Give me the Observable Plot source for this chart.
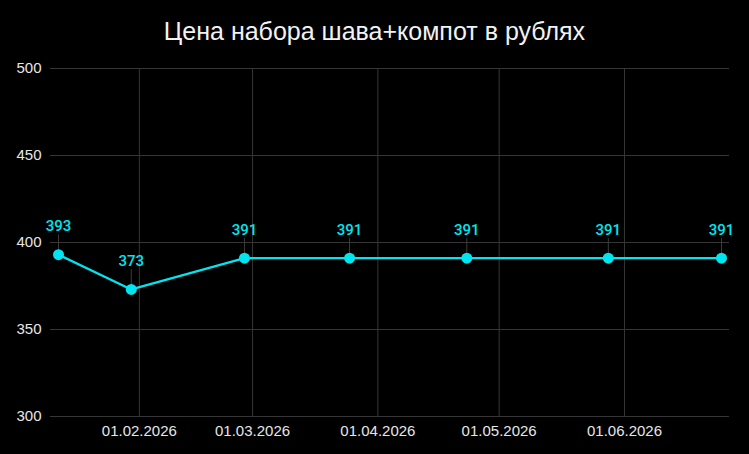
<!DOCTYPE html>
<html>
<head>
<meta charset="utf-8">
<script src="https://cdn.jsdelivr.net/npm/d3@7"></script>
<script src="https://cdn.jsdelivr.net/npm/@observablehq/plot@0.6"></script>
<style>
  html, body { margin: 0; padding: 0; background: #000; }
  #title {
    width: 749px; height: 56px; box-sizing: border-box;
    padding-top: 19px; font: 25px/25px "Liberation Sans", Arial, sans-serif;
    color: #f2f2f2; text-align: center;
  }
</style>
</head>
<body>
<div id="title">Цена набора шава+компот в рублях</div>
<div id="chart"></div>
<script>
const dates = ["2026-01-12", "2026-01-30", "2026-02-27", "2026-03-25", "2026-04-23", "2026-05-28", "2026-06-25"];
const prices = [393, 373, 391, 391, 391, 391, 391];
const xTicks = ["2026-02-01", "2026-03-01", "2026-04-01", "2026-05-01", "2026-06-01"];
const yTicks = [300, 350, 400, 450, 500];

const data = dates.map((d, i) => ({date: new Date(d), value: prices[i]}));
const xTickDates = xTicks.map(d => new Date(d));
const cyan = "#00e5f0";
const grid = "#363636";
const fmt = d3.utcFormat("%d.%m.%Y");

const chart = Plot.plot({
  width: 749,
  height: 398,
  marginTop: 12,
  marginBottom: 38,
  marginLeft: 50,
  marginRight: 20,
  style: {background: "#000", color: "#e6e6e6", fontFamily: "'Liberation Sans', Arial, sans-serif", fontSize: "15px"},
  x: {type: "utc", inset: 8},
  y: {domain: [300, 500]},
  marks: [
    Plot.gridX(xTickDates, {stroke: grid, strokeOpacity: 1}),
    Plot.gridY(yTicks, {stroke: grid, strokeOpacity: 1}),
    Plot.axisX(xTickDates, {tickSize: 0, tickPadding: 9, tickFormat: fmt, label: null, fill: "#e6e6e6"}),
    Plot.axisY(yTicks, {tickSize: 0, tickPadding: 9, label: null, fill: "#e6e6e6"}),
    Plot.vector(data, {
      x: "date", y: "value", length: 20, rotate: 0, anchor: "start",
      stroke: "#3c3c3c", strokeWidth: 1,
      shape: {draw(context, l) { context.moveTo(0, 0); context.lineTo(0, -l); }}
    }),
    Plot.line(data, {x: "date", y: "value", stroke: cyan, strokeWidth: 2.3}),
    Plot.dot(data, {x: "date", y: "value", r: 5.5, fill: cyan, stroke: null}),
    Plot.text(data, {x: "date", y: "value", text: d => String(d.value), dy: -28, fill: cyan,
      fontFamily: "Roboto", fontWeight: 500, fontSize: 15})
  ]
});
document.getElementById("chart").appendChild(chart);
</script>
</body>
</html>
